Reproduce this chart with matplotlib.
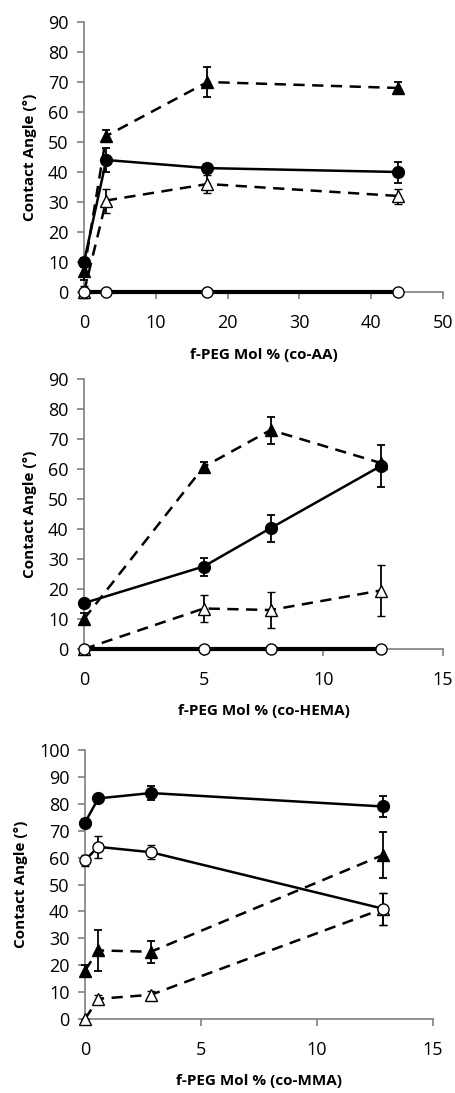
import matplotlib.pyplot as plt

plt.rcParams['font.family'] = ['Open Sans', 'DejaVu Sans']

# panel data: x values, then four series (value, error)
x_aa = [0, 3.1, 17.2, 43.8]
aa_fc = [10, 44, 41.3, 40]
aa_fc_err = [1.5, 4, 1.5, 3.5]
aa_oc = [0, 0, 0, 0]
aa_ft = [7, 52, 70, 68]
aa_ft_err = [3, 2, 5, 2]
aa_ot = [0, 30.5, 36, 32]
aa_ot_err = [2, 4, 3, 2.5]

x_hema = [0, 5, 7.8, 12.4]
hema_fc = [15.3, 27.5, 40.3, 61]
hema_fc_err = [1, 3, 4.5, 7]
hema_oc = [0, 0, 0, 0]
hema_ft = [10, 60.7, 73, 62]
hema_ft_err = [2, 1.5, 4.5, 0]
hema_ot = [0, 13.5, 13, 19.5]
hema_ot_err = [0, 4.5, 6, 8.5]

x_mma = [0, 0.57, 2.84, 12.85]
mma_fc = [73, 82, 84, 79]
mma_fc_err = [1.5, 0.5, 2.5, 4]
mma_oc = [59, 64, 62, 41]
mma_oc_err = [2, 4, 2.5, 6]
mma_ft = [18, 25.5, 25, 61]
mma_ft_err = [2, 7.5, 4, 8.5]
mma_ot = [0, 7.5, 9, 41]
mma_ot_err = [0, 1.5, 1.5, 6]

panels = [
    dict(x=x_aa, fc=aa_fc, fce=aa_fc_err, oc=aa_oc, oce=None, oclw=3,
         ft=aa_ft, fte=aa_ft_err, ot=aa_ot, ote=aa_ot_err,
         xlim=50, xstep=10, ylim=90, xlabel='f-PEG Mol % (co-AA)',
         rect=[84/455, 1-292/1093, 359/455, 270/1093]),
    dict(x=x_hema, fc=hema_fc, fce=hema_fc_err, oc=hema_oc, oce=None, oclw=3,
         ft=hema_ft, fte=hema_ft_err, ot=hema_ot, ote=hema_ot_err,
         xlim=15, xstep=5, ylim=90, xlabel='f-PEG Mol % (co-HEMA)',
         rect=[84/455, 1-649/1093, 359/455, 270/1093]),
    dict(x=x_mma, fc=mma_fc, fce=mma_fc_err, oc=mma_oc, oce=mma_oc_err, oclw=1.8,
         ft=mma_ft, fte=mma_ft_err, ot=mma_ot, ote=mma_ot_err,
         xlim=15, xstep=5, ylim=100, xlabel='f-PEG Mol % (co-MMA)',
         rect=[85/455, 1-1019/1093, 348/455, 269/1093]),
]

fig = plt.figure(figsize=(4.55, 10.93), dpi=100)
ek = dict(ecolor='black', elinewidth=1.3, capsize=3, capthick=1.3, zorder=3)


def unclip(c):
    for art in c.get_children():
        art.set_clip_on(False)


for p in panels:
    ax = fig.add_axes(p['rect'])
    unclip(ax.errorbar(p['x'], p['ft'], yerr=p['fte'], color='black', lw=1.8,
                       dashes=(4.5, 3), marker='^', ms=8, mfc='black', mec='black', **ek))
    unclip(ax.errorbar(p['x'], p['ot'], yerr=p['ote'], color='black', lw=1.8,
                       dashes=(4.5, 3), marker='^', ms=8, mfc='white', mec='black', mew=1, **ek))
    unclip(ax.errorbar(p['x'], p['oc'], yerr=p['oce'], color='black', lw=p['oclw'],
                       marker='o', ms=8, mfc='white', mec='black', mew=1, **ek))
    unclip(ax.errorbar(p['x'], p['fc'], yerr=p['fce'], color='black', lw=1.8,
                       marker='o', ms=8.5, mfc='black', mec='black', **ek))
    ax.set_xlim(0, p['xlim'])
    ax.set_ylim(0, p['ylim'])
    ax.set_xticks(range(0, p['xlim'] + 1, p['xstep']))
    ax.set_yticks(range(0, p['ylim'] + 1, 10))
    for s in ['top', 'right']:
        ax.spines[s].set_visible(False)
    for s in ['left', 'bottom']:
        ax.spines[s].set_color('#7f7f7f')
        ax.spines[s].set_linewidth(1.2)
    ax.tick_params(axis='y', direction='out', length=5, width=1.2, color='#7f7f7f',
                   labelsize=13, pad=6)
    ax.tick_params(axis='x', direction='out', length=5, width=1.2, color='#7f7f7f',
                   labelsize=13, pad=11)
    ax.set_xlabel(p['xlabel'], fontsize=11, fontweight='bold', labelpad=11)
    ax.set_ylabel('Contact Angle (°)', fontsize=11, fontweight='bold', labelpad=8)

fig.savefig('out.png', dpi=100)
